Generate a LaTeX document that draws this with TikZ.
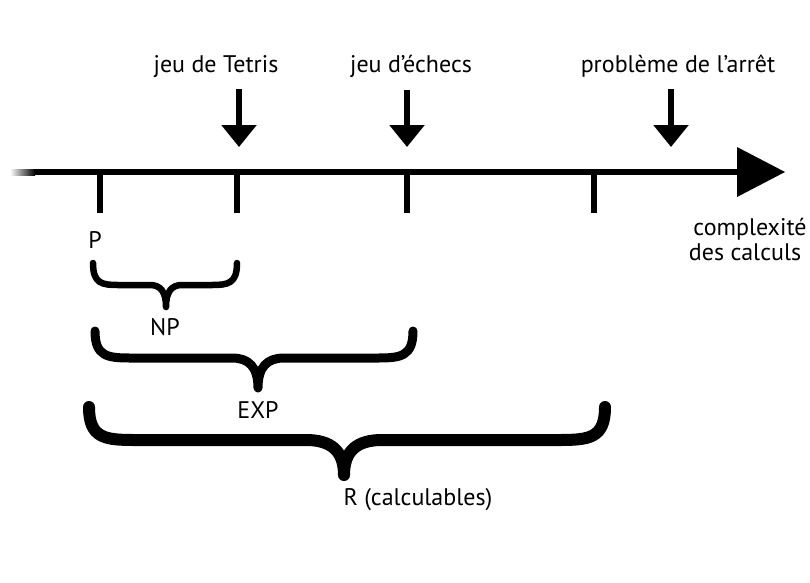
\documentclass[tikz,border=0pt]{standalone}
\usepackage{fontspec}
\setmainfont{PT Sans}
\usetikzlibrary{arrows.meta}
% #1 x0, #2 x1, #3 xt, #4 yt, #5 ym, #6 yb, #7 c, #8 d, #9 width
\newcommand{\mybrace}[9]{%
  \draw[line width=#9pt, line cap=round, line join=round]
    (#1,#4) .. controls (#1,{#5-0.05*(#5-#4)}) and ({#1+0.35*#7},#5) .. ({#1+#7},#5)
    -- ({#3-#8},#5) .. controls ({#3-0.35*#8},#5) and (#3,{#5+0.3*(#6-#5)}) .. (#3,#6)
    .. controls (#3,{#5+0.3*(#6-#5)}) and ({#3+0.35*#8},#5) .. ({#3+#8},#5)
    -- ({#2-#7},#5) .. controls ({#2-0.35*#7},#5) and (#2,{#5-0.05*(#5-#4)}) .. (#2,#4);}
\begin{document}
\begin{tikzpicture}[x=1pt,y=-1pt,
  lbl/.style={font=\fontsize{24}{28}\selectfont, anchor=base, inner sep=0pt},
  tick/.style={line width=6pt},
  down/.style={line width=6pt, -{Triangle[length=22pt,width=34pt]}}]
\useasboundingbox (0,0) rectangle (810,582);
\fill[white] (0,0) rectangle (810,582);
% axis
\coordinate (axL) at (34,172);
\coordinate (axR) at (740,172);
\shade[left color=white, right color=black] (10,169) rectangle (35,175);
\draw[line width=6pt] (axL) -- (axR);
\fill (737,147) -- (785,172) -- (737,197) -- cycle;
% ticks
\foreach \x/\n in {100/t1,237/t2,407/t3,594/t4}{
  \coordinate (\n a) at (\x,172);
  \coordinate (\n b) at (\x,213);
  \draw[tick] (\n a) -- (\n b);
}
% labels
\node[lbl] (tetris) at (216,72) {jeu de Tetris};
\node[lbl] (echecs) at (411,72) {jeu d’échecs};
\node[lbl] (arret) at (678,72) {problème de l’arrêt};
\node[lbl] (cx1) at (750,235) {complexité};
\node[lbl] (cx2) at (745,260) {des calculs};
\node[lbl] (P) at (95,248) {P};
\node[lbl] (NP) at (165,335) {NP};
\node[lbl] (EXP) at (258,418) {EXP};
\node[lbl] (R) at (418,505) {R (calculables)};
% down arrows
\coordinate (a1s) at (239,89);  \coordinate (a1e) at (239,147);
\coordinate (a2s) at (407,90);  \coordinate (a2e) at (407,147);
\coordinate (a3s) at (671,89);  \coordinate (a3e) at (671,147);
\draw[down] (a1s) -- (a1e);
\draw[down] (a2s) -- (a2e);
\draw[down] (a3s) -- (a3e);
% braces
\mybrace{93}{237}{166}{263}{285}{307}{26}{16}{6.5}
\mybrace{95}{413}{258}{331}{358}{388}{36}{26}{9}
\mybrace{89}{605}{344}{407}{440}{475}{46}{38}{12}
\end{tikzpicture}
\end{document}
